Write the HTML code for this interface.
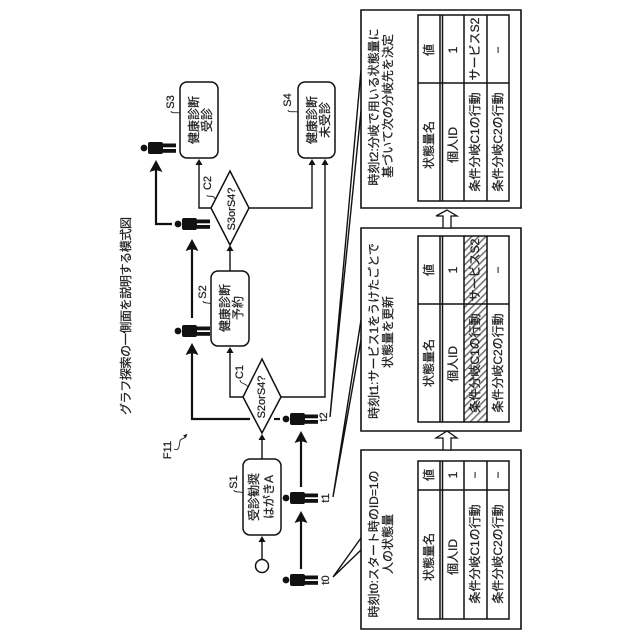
<!DOCTYPE html>
<html lang="ja"><head><meta charset="utf-8"><style>
html,body{margin:0;padding:0;background:#fff}
svg{display:block}
text{font-family:"Liberation Sans","Noto Sans CJK JP",sans-serif;font-size:12px;fill:#222;stroke:#222;stroke-width:.25;text-anchor:middle;dominant-baseline:central}
.s{font-size:11px}
.n{fill:#fff;stroke:#111;stroke-width:1.5}
.l{fill:none;stroke:#111;stroke-width:1.4}
.f{fill:none;stroke:#222;stroke-width:.9}
.k{fill:none;stroke:#111;stroke-width:2.2}
.t{fill:none;stroke:#111;stroke-width:1.5}
</style></head><body>
<svg width="640" height="640" viewBox="0 0 640 640" xmlns="http://www.w3.org/2000/svg">
<defs>
<g id="p"><circle cx="-11" cy="0" r="3.4" fill="#111"/><rect x="-7" y="-6" width="15" height="12" rx="2" fill="#111"/><rect x="8" y="-4.5" width="13" height="3.8" fill="#111"/><rect x="8" y="1" width="13" height="3.8" fill="#111"/></g>
<pattern id="h" width="5" height="5" patternUnits="userSpaceOnUse" patternTransform="rotate(45)"><rect width="5" height="5" fill="#fff"/><rect width="1.6" height="5" fill="#777"/></pattern>
</defs>
<rect width="640" height="640" fill="#fff"/>

<text transform="translate(126,316) rotate(-90)" textLength="198">グラフ探索の一側面を説明する模式図</text>
<text transform="translate(168,450) rotate(-90)" class="s">F11</text>
<path d="M174 449 C180 452 179 444 180 441 C181 437 184 441 187 434" class="f"/>
<path d="M187 434 l-4 1.5 l3 2.5z" fill="#111"/>

<rect class="n" x="180" y="82" width="38" height="76" rx="7"/>
<rect class="n" x="298" y="82" width="37" height="76" rx="7"/>
<rect class="n" x="211" y="271" width="38" height="75" rx="7"/>
<rect class="n" x="243" y="459" width="38" height="76" rx="7"/>
<path class="n" d="M230 171 L249 208 L230 245 L211 208Z"/>
<path class="n" d="M262 359 L281 397 L262 433 L243 397Z"/>
<circle class="n" cx="262" cy="566" r="6.5"/>

<text transform="translate(194,120) rotate(-90)">健康診断</text>
<text transform="translate(207,120) rotate(-90)">受診</text>
<text transform="translate(312,120) rotate(-90)">健康診断</text>
<text transform="translate(325,120) rotate(-90)">未受診</text>
<text transform="translate(225,308) rotate(-90)">健康診断</text>
<text transform="translate(238,308) rotate(-90)">予約</text>
<text transform="translate(254,497) rotate(-90)">受診勧奨</text>
<text transform="translate(269,497) rotate(-90)">はがきA</text>
<text transform="translate(232,209) rotate(-90)" class="s">S3orS4?</text>
<text transform="translate(262,397) rotate(-90)" class="s">S2orS4?</text>

<text transform="translate(171,102) rotate(-90)" class="s">S3</text>
<text transform="translate(288,100) rotate(-90)" class="s">S4</text>
<text transform="translate(203,292) rotate(-90)" class="s">S2</text>
<text transform="translate(208,183) rotate(-90)" class="s">C2</text>
<text transform="translate(240,372) rotate(-90)" class="s">C1</text>
<text transform="translate(234,482) rotate(-90)" class="s">S1</text>
<text transform="translate(326,580) rotate(-90)" class="s">t0</text>
<text transform="translate(326,498) rotate(-90)" class="s">t1</text>
<text transform="translate(324,417) rotate(-90)" class="s">t2</text>

<path d="M171 111 C171 114 178 112 180 113M207 195 C207 198 214 194 215 199M234 490 C234 493 241 491 243 493M240 380 C240 384 246 383 248 387M203 301 C203 304 209 302 211 304M288 110 C288 113 295 111 298 112" class="f"/>

<path class="l" d="M211 208H199V163"/><path d="M199 159l-3.5 6h7z" fill="#111"/>
<path class="l" d="M249 208H312V163"/><path d="M312 159l-3.5 6h7z" fill="#111"/>
<path class="l" d="M281 397H325V163"/><path d="M325 159l-3.5 6h7z" fill="#111"/>
<path class="l" d="M243 397H230V352"/><path d="M230 347l-3.5 6h7z" fill="#111"/>
<path class="l" d="M230 271V250"/><path d="M230 245l-3.5 6h7z" fill="#111"/>
<path class="l" d="M262 459V439"/><path d="M262 434l-3.5 6h7z" fill="#111"/>
<path class="l" d="M262 559V541"/><path d="M262 536l-3.5 6h7z" fill="#111"/>

<path class="k" d="M301 569V520"/><path d="M301 511l-6.5 12 6.5-2 6.5 2z" fill="#111"/>
<path class="k" d="M301 487V440"/><path d="M301 431l-6.5 12 6.5-2 6.5 2z" fill="#111"/>
<path class="k" d="M250 419H192V352"/><path d="M192 343l-6.5 12 6.5-2 6.5 2z" fill="#111"/>
<path class="k" d="M192 318V248"/><path d="M192 239l-6.5 12 6.5-2 6.5 2z" fill="#111"/>
<path class="k" d="M172 224H156V170"/><path d="M156 160l-6.5 12 6.5-2 6.5 2z" fill="#111"/>
<path class="k" d="M274 419H280"/>

<use href="#p" x="297" y="580"/><use href="#p" x="297" y="498"/><use href="#p" x="297" y="419"/>
<use href="#p" x="189" y="331"/><use href="#p" x="189" y="224"/><use href="#p" x="155" y="148"/>

<path class="l" d="M333 577L361 538M333 577L361 550M333 497L361 320M333 497L361 340M330 417L361 70M330 417L361 111"/>

<path d="M361 10H521V208H361ZM361 228H521V431H361ZM361 450H521V629H361Z" fill="#fff" stroke="#111" stroke-width="1.6"/>

<path d="M447 210L457 216H451V228H443V216H436Z" fill="#fff" stroke="#111" stroke-width="1.3"/>
<path d="M447 431L457 438H451V450H443V438H436Z" fill="#fff" stroke="#111" stroke-width="1.3"/>

<rect x="464" y="236" width="23" height="186" fill="url(#h)"/>

<path class="t" d="M418 15H509V201H418ZM440 15V201M442.5 15V201M464 15V201M487 15V201M418 83H509"/>
<path class="t" d="M418 236H509V422H418ZM440 236V422M442.5 236V422M464 236V422M487 236V422M418 304H509"/>
<path class="t" d="M418 461H509V619H418ZM440 461V619M442.5 461V619M464 461V619M487 461V619M418 490H509"/>

<text transform="translate(374,107) rotate(-90)">時刻t2:分岐で用いる状態量に</text>
<text transform="translate(388,106) rotate(-90)">基づいて次の分岐先を決定</text>
<text transform="translate(374,331) rotate(-90)">時刻t1:サービス1をうけたごとで</text>
<text transform="translate(388,332) rotate(-90)">状態量を更新</text>
<text transform="translate(374,544) rotate(-90)">時刻t0:スタート時のID=1の</text>
<text transform="translate(388,544) rotate(-90)">人の状態量</text>

<text transform="translate(429,145) rotate(-90)">状態量名</text>
<text transform="translate(429,50) rotate(-90)">値</text>
<text transform="translate(453,145) rotate(-90)">個人ID</text>
<text transform="translate(453,50) rotate(-90)">1</text>
<text transform="translate(475,142) rotate(-90)">条件分岐C1の行動</text>
<text transform="translate(475,49) rotate(-90)">サービスS2</text>
<text transform="translate(498,142) rotate(-90)">条件分岐C2の行動</text>
<text transform="translate(498,50) rotate(-90)">−</text>

<text transform="translate(429,363) rotate(-90)">状態量名</text>
<text transform="translate(429,270) rotate(-90)">値</text>
<text transform="translate(453,364) rotate(-90)">個人ID</text>
<text transform="translate(453,270) rotate(-90)">1</text>
<text transform="translate(475,363) rotate(-90)">条件分岐C1の行動</text>
<text transform="translate(475,270) rotate(-90)">サービスS2</text>
<text transform="translate(498,363) rotate(-90)">条件分岐C2の行動</text>
<text transform="translate(498,270) rotate(-90)">−</text>

<text transform="translate(429,557) rotate(-90)">状態量名</text>
<text transform="translate(429,475) rotate(-90)">値</text>
<text transform="translate(453,557) rotate(-90)">個人ID</text>
<text transform="translate(453,475) rotate(-90)">1</text>
<text transform="translate(475,554) rotate(-90)">条件分岐C1の行動</text>
<text transform="translate(475,475) rotate(-90)">−</text>
<text transform="translate(498,554) rotate(-90)">条件分岐C2の行動</text>
<text transform="translate(498,475) rotate(-90)">−</text>
</svg>
</body></html>
